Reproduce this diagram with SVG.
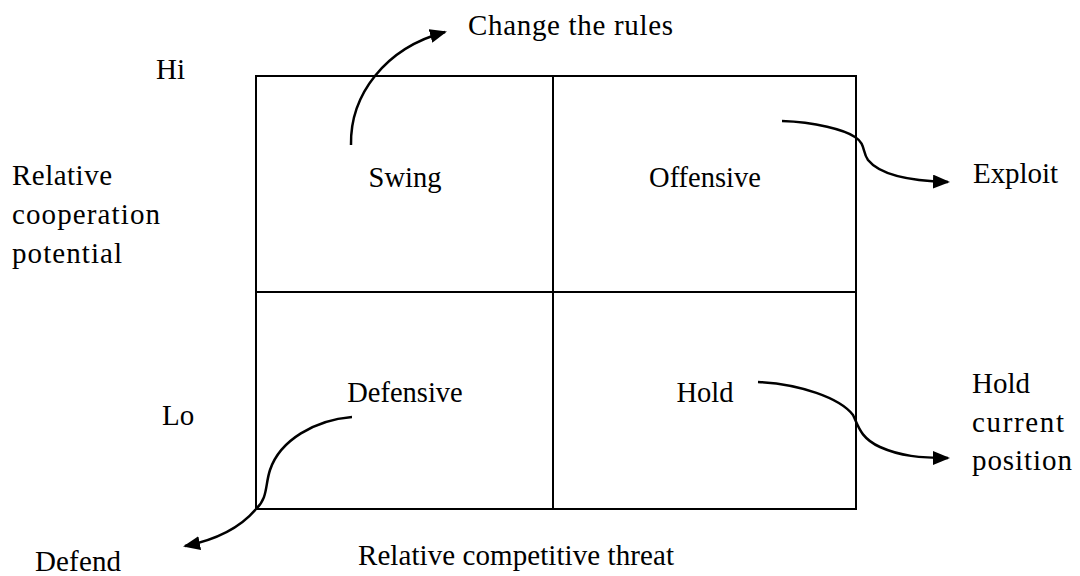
<svg xmlns="http://www.w3.org/2000/svg" width="1080" height="576" viewBox="0 0 1080 576">
  <style>
    .grid { fill: none; stroke: #000; stroke-width: 2; }
    .cell { font-family: "Liberation Serif", "Times New Roman", serif; font-size: 28.5px; fill: #000; text-anchor: middle; }
    .note { font-family: "Liberation Serif", "Times New Roman", serif; font-size: 29px; fill: #000; }
    .link { fill: none; stroke: #000; stroke-width: 2.5; stroke-linecap: butt; marker-end: url(#arrow); }
  </style>
  <defs>
    <marker id="arrow" viewBox="0 0 17 14" refX="15" refY="7" markerWidth="17" markerHeight="14" markerUnits="userSpaceOnUse" orient="auto">
      <path d="M0,0 L17,7 L0,14 z" fill="#000"/>
    </marker>
  </defs>

  <rect width="1080" height="576" fill="#fff"/>

  <!-- 2x2 matrix frame -->
  <g id="matrix">
    <rect class="grid" x="256" y="76" width="600" height="433"/>
    <line class="grid" x1="553" y1="76" x2="553" y2="509"/>
    <line class="grid" x1="256" y1="292" x2="856" y2="292"/>
  </g>

  <!-- quadrants -->
  <g id="swing"><text class="cell" x="405" y="187">Swing</text></g>
  <g id="offensive"><text class="cell" x="705" y="187">Offensive</text></g>
  <g id="defensive"><text class="cell" x="405" y="402">Defensive</text></g>
  <g id="hold"><text class="cell" x="705" y="402">Hold</text></g>

  <!-- axis labels -->
  <g id="axis-hi"><text class="note" x="156" y="79">Hi</text></g>
  <g id="axis-lo"><text class="note" x="162" y="425">Lo</text></g>
  <g id="axis-y">
    <text class="note" x="12" y="185" textLength="100" lengthAdjust="spacing">Relative</text>
    <text class="note" x="12" y="224" textLength="148" lengthAdjust="spacing">cooperation</text>
    <text class="note" x="12" y="263" textLength="110" lengthAdjust="spacing">potential</text>
  </g>
  <g id="axis-x"><text class="note" x="358" y="565" textLength="316" lengthAdjust="spacing">Relative competitive threat</text></g>

  <!-- strategy outcomes -->
  <g id="change-rules"><text class="note" x="468" y="35" textLength="205" lengthAdjust="spacing">Change the rules</text></g>
  <g id="exploit"><text class="note" x="973" y="183" textLength="85" lengthAdjust="spacing">Exploit</text></g>
  <g id="hold-position">
    <text class="note" x="972" y="393">Hold</text>
    <text class="note" x="972" y="432" textLength="92" lengthAdjust="spacing">current</text>
    <text class="note" x="972" y="470" textLength="100" lengthAdjust="spacing">position</text>
  </g>
  <g id="defend"><text class="note" x="35" y="571" textLength="86" lengthAdjust="spacing">Defend</text></g>

  <!-- connectors -->
  <g id="connectors">
    <path class="link" d="M351,145 C350,95 385,48 445,32"/>
    <path class="link" d="M782,121 C815,122 845,130 855,137 C866,144 862,152 868,160 C880,175 910,181 948,182"/>
    <path class="link" d="M758,382 C800,384 840,398 853,415 C858,425 860,438 880,447 C900,456 920,458 948,458"/>
    <path class="link" d="M352,417 C315,420 280,440 270,470 C265,485 268,498 256,509 C240,528 215,540 185,546"/>
  </g>
</svg>
